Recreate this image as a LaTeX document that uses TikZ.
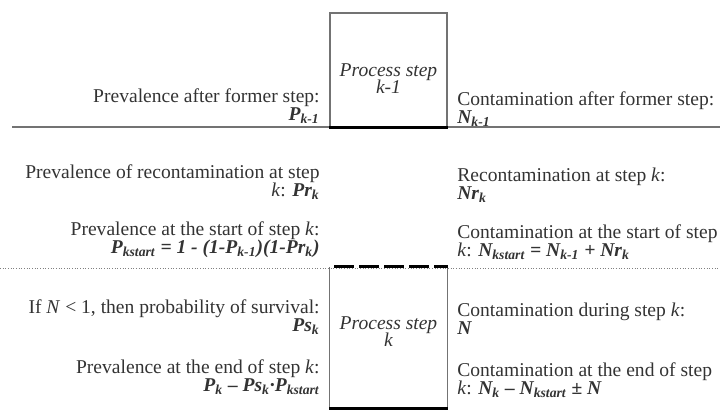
\documentclass[tikz,border=0pt]{standalone}
\usepackage{fontspec}
\setmainfont{Liberation Serif}
\newcommand{\formula}[1]{\textbf{\textit{#1}}}
\tikzset{
  lefttext/.style={anchor=base east,align=right,inner sep=0pt,text=black!80},
  righttext/.style={anchor=base west,align=left,inner sep=0pt,text=black!80},
  stepbox/.style={draw=black!55,line width=0.6pt,minimum width=65.8pt,inner sep=0pt},
  steplabel/.style={anchor=base,align=center,inner sep=0pt,font=\fontsize{11}{10}\selectfont\itshape,text=black!80},
  rule/.style={draw=black!55,line width=0.6pt},
  dotrule/.style={draw=black!50,line width=0.5pt,densely dotted},
  heavy/.style={draw=black,line width=1.7pt},
  heavydash/.style={draw=black,line width=1.7pt,dash pattern=on 11.2pt off 2.8pt,dash phase=11.2pt}
}
\begin{document}
\begin{tikzpicture}[x=0.5625pt,y=-0.5625pt,font=\fontsize{11}{10.4}\selectfont]
  \useasboundingbox (0,0) rectangle (720,410);
  \coordinate (ruleL) at (12,127);
  \coordinate (ruleR) at (720,127);
  \coordinate (dotL) at (0,268);
  \coordinate (dotR) at (720,268);
  \draw[rule] (ruleL) -- (ruleR);
  \draw[dotrule] (dotL) -- (dotR);
  \node[stepbox,minimum height=64.1pt] (S1) at (388.5,70) {};
  \node[stepbox,draw=none,minimum height=78.75pt] (S2) at (388.5,337.5) {};
  \draw[rule] (S2.north west) -- (S2.south west) (S2.north east) -- (S2.south east);
  \draw[heavy] (S1.south west) -- (S1.south east);
  \draw[heavydash] (S2.north west) -- (S2.north east);
  \draw[heavy] (S2.south west) -- (S2.south east);
  \node[steplabel] (L1) at (388.5,94) {Process step\\k-1};
  \node[steplabel] (L2) at (388.5,347) {Process step\\k};
  \node[lefttext] (P1) at (320,121) {Prevalence after former step:\\\formula{P\textsubscript{k-1}}};
  \node[lefttext] (P2) at (320,197) {Prevalence of recontamination at step\\\textit{k}: \formula{Pr\textsubscript{k}}};
  \node[lefttext] (P3) at (320,254) {Prevalence at the start of step \textit{k}:\\\formula{P\textsubscript{kstart} = 1 - (1-P\textsubscript{k-1})(1-Pr\textsubscript{k})}};
  \node[lefttext] (P4) at (320,332) {If \textit{N} < 1, then probability of survival:\\\formula{Ps\textsubscript{k}}};
  \node[lefttext] (P5) at (320,392) {Prevalence at the end of step \textit{k}:\\\formula{P\textsubscript{k} – Ps\textsubscript{k}·P\textsubscript{kstart}}};
  \node[righttext] (N1) at (457,124) {Contamination after former step:\\\formula{N\textsubscript{k-1}}};
  \node[righttext] (N2) at (457,200) {Recontamination at step \textit{k}:\\\formula{Nr\textsubscript{k}}};
  \node[righttext] (N3) at (457,257) {Contamination at the start of step\\\textit{k}: \formula{N\textsubscript{kstart} = N\textsubscript{k-1} + Nr\textsubscript{k}}};
  \node[righttext] (N4) at (457,335) {Contamination during step \textit{k}:\\\formula{N}};
  \node[righttext] (N5) at (457,395) {Contamination at the end of step\\\textit{k}: \formula{N\textsubscript{k} – N\textsubscript{kstart} ± N}};
\end{tikzpicture}
\end{document}
